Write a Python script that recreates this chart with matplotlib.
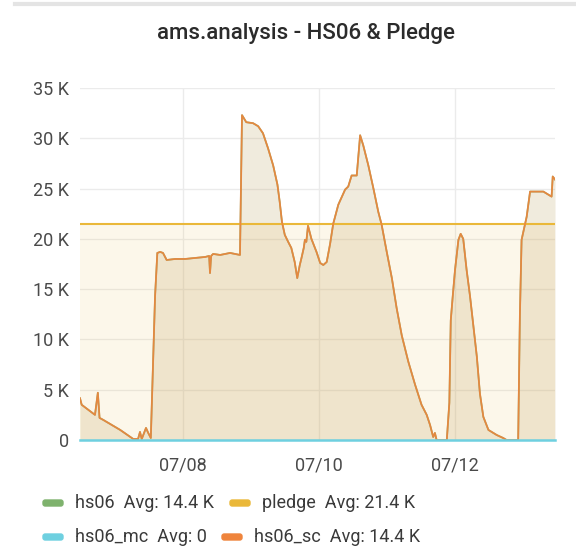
import numpy as np
import matplotlib
matplotlib.use("Agg")
import matplotlib.pyplot as plt
import matplotlib.dates as mdates
from matplotlib.patches import FancyBboxPatch
from matplotlib.lines import Line2D

plt.rcParams['font.family'] = ['Roboto', 'DejaVu Sans']

# hours since 2019-07-06 00:00 and hs06_sc values (K)
sc_hours = [11.6, 12.2, 16.9, 17.9, 18.5, 19.8, 25.8, 30.4, 32.1, 32.8, 33.4, 34.9, 35.7, 36.6,
            38.1, 38.9, 39.9, 40.9, 42.2, 45.2, 48.7, 52.2, 55.8, 57.2, 57.5, 57.9, 58.6,
            61.1, 64.6, 68.1,
            68.8, 70.3, 72.7, 74.5, 76.2, 78.0, 79.8, 81.3, 82.1, 82.9, 83.9, 85.1, 86.2,
            87.4, 88.3, 89.2, 89.8, 90.6, 91.0, 91.5, 92.1, 93.3, 95.1,
            96.4, 97.5, 98.7, 99.9, 101.0, 102.8, 105.2, 106.3, 107.5,
            109.3, 110.5, 111.6, 113.4, 115.2, 116.9, 118.1, 119.9, 121.7, 123.4, 125.2,
            127.5, 129.9, 132.2, 134.0, 135.2, 136.3, 136.9, 137.5,
            141.1, 142.0, 142.5, 143.2, 144.0, 145.2, 146.0, 146.9, 148.1, 149.3, 150.5,
            151.7, 152.8, 154.0, 155.8, 158.7, 161.0, 162.2, 166.3,
            166.9, 167.5, 169.3, 170.5, 175.2, 178.1, 178.5, 179.3]
sc_values = [4.15, 3.5, 2.5, 4.7, 2.2, 2.0, 1.0, 0.1, 0.1, 0.8, 0.1, 1.2, 0.7, 0.2,
             14.3, 18.6, 18.7, 18.6, 17.9, 18.0, 18.0, 18.1, 18.2, 18.3, 16.6, 18.3, 18.5,
             18.4, 18.6, 18.4,
             32.3, 31.6, 31.5, 31.2, 30.5, 29.0, 27.3, 25.4, 23.7, 21.7, 20.4, 19.7, 19.1,
             17.7, 16.1, 17.4, 18.1, 19.1, 19.9, 19.7, 21.3, 20.0, 18.7,
             17.6, 17.4, 17.7, 19.5, 21.5, 23.4, 24.9, 25.2, 26.3,
             26.3, 30.3, 29.3, 27.3, 25.0, 22.7, 21.4, 18.7, 16.1, 13.1, 10.4,
             7.8, 5.5, 3.5, 2.5, 1.5, 0.3, 0.7, 0.0,
             0.0, 3.7, 11.9, 14.3, 16.9, 19.9, 20.5, 20.0, 16.9, 14.3, 11.3,
             8.3, 4.6, 2.3, 1.0, 0.5, 0.2, 0.0, 0.0,
             12.3, 19.9, 22.2, 24.7, 24.7, 24.2, 26.2, 25.9]
pledge_value = 21.45
mc_value = 0.0

legend_labels = ['hs06  Avg: 14.4 K', 'pledge  Avg: 21.4 K', 'hs06_mc  Avg: 0', 'hs06_sc  Avg: 14.4 K']
colors = {'hs06': '#7EB26D', 'pledge': '#EAB839', 'hs06_mc': '#6ED0E0', 'hs06_sc': '#EF843C'}

base = np.datetime64('2019-07-06T00:00')
t = base + (np.array(sc_hours) * 60).astype(int).astype('timedelta64[m]')
sc = np.array(sc_values) * 1000
hs06 = sc.copy()
pledge = np.full(len(t), pledge_value * 1000)
mc = np.full(len(t), mc_value)

fig = plt.figure(figsize=(5.76, 5.6), dpi=100)
ax = fig.add_axes([80 / 576, 1 - 440 / 560, 475 / 576, 352 / 560])

ax.fill_between(t, 0, hs06, color=colors['hs06'], alpha=0.1, lw=0)
ax.plot(t, hs06, color=colors['hs06'], lw=1.2)
ax.fill_between(t, 0, pledge, color=colors['pledge'], alpha=0.1, lw=0)
ax.plot(t, pledge, color=colors['pledge'], lw=1.5)
ax.fill_between(t, 0, sc, color=colors['hs06_sc'], alpha=0.1, lw=0)
ax.plot(t, sc, color=colors['hs06_sc'], lw=1.3, alpha=0.9)
ax.plot(t, mc, color=colors['hs06_mc'], lw=1.8, clip_on=False)

ax.set_xlim(t[0], t[-1])
ax.set_ylim(0, 35000)
ax.set_yticks(np.arange(0, 35001, 5000))
ax.set_yticklabels(['0'] + ['%d K' % v for v in range(5, 36, 5)])
ax.xaxis.set_major_locator(mdates.DayLocator(bymonthday=[8, 10, 12]))
ax.xaxis.set_major_formatter(mdates.DateFormatter('%m/%d'))
ax.grid(True, color='#ebebeb', lw=1)
ax.set_axisbelow(True)
for s in ax.spines.values():
    s.set_visible(False)
ax.tick_params(length=0, labelsize=13, colors='#4a4a4a', pad=8)
ax.tick_params(axis='x', pad=12)

fig.text(306 / 576, 1 - 34 / 560, 'ams.analysis - HS06 & Pledge', ha='center', va='center',
         fontsize=16, color='#2b2b2b', fontweight='medium')
fig.add_artist(Line2D([15 / 576, 1], [1 - 4 / 560] * 2, color='#e4e4e4', lw=3))

# legend
pos = [(43, 503, 'hs06'), (230, 503, 'pledge'), (43, 537, 'hs06_mc'), (222, 537, 'hs06_sc')]
for (x, y, key), lab in zip(pos, legend_labels):
    fig.add_artist(FancyBboxPatch((x / 576, 1 - (y + 3) / 560), 20 / 576, 6 / 560,
                                  boxstyle='round,pad=0,rounding_size=0.004',
                                  color=colors[key], transform=fig.transFigure))
    fig.text((x + 32) / 576, 1 - y / 560, lab, ha='left', va='center', fontsize=13, color='#3a3a3a')

fig.savefig('out.png', dpi=100, facecolor='white')
